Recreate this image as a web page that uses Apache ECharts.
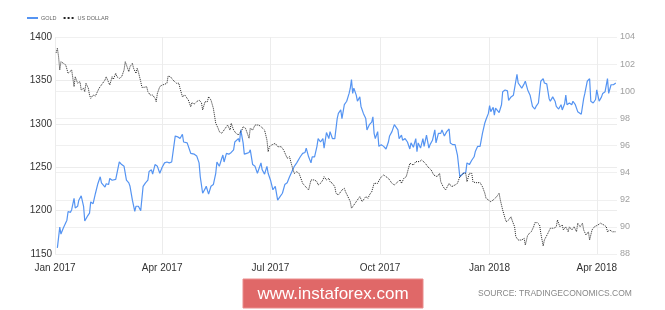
<!DOCTYPE html>
<html>
<head>
<meta charset="utf-8">
<script src="https://cdn.jsdelivr.net/npm/echarts@6/dist/echarts.min.js"></script>
<style>html,body{margin:0;padding:0;background:#fff}#c{width:665px;height:310px}</style>
</head>
<body>
<div id="c"></div>
<script>
// x values are days since 1 Jan 2017
const quarterDays = [0, 90, 181, 273, 365, 455];
const quarterLabels = ['Jan 2017', 'Apr 2017', 'Jul 2017', 'Oct 2017', 'Jan 2018', 'Apr 2018'];
const goldTicks = [1150, 1200, 1250, 1300, 1350, 1400];
const usdTicks = [88, 90, 92, 94, 96, 98, 100, 102, 104];

const gold = [[2,1157],[4,1181],[5,1173],[7,1180],[10,1189],[11,1199],[13,1198],[14,1201],[16,1214],[17,1203],[19,1205],[20,1212],[22,1217],[24,1205],[25,1188],[27,1193],[29,1197],[30,1210],[32,1208],[34,1220],[36,1231],[38,1239],[39,1232],[40,1233],[42,1227],[43,1231],[45,1230],[46,1237],[48,1235],[51,1236],[52,1235],[54,1256],[56,1253],[58,1251],[60,1235],[62,1232],[63,1228],[65,1212],[67,1199],[68,1205],[70,1205],[72,1200],[74,1228],[76,1232],[78,1235],[79,1245],[81,1247],[82,1242],[84,1253],[86,1251],[88,1243],[90,1250],[92,1255],[94,1256],[96,1255],[98,1256],[101,1286],[103,1285],[105,1283],[107,1288],[108,1279],[111,1278],[112,1276],[114,1266],[115,1264],[117,1265],[119,1263],[121,1255],[122,1239],[124,1220],[126,1225],[127,1228],[129,1219],[131,1228],[133,1230],[135,1243],[136,1256],[138,1251],[140,1260],[141,1264],[142,1256],[144,1266],[146,1265],[148,1267],[150,1270],[151,1279],[152,1278],[154,1283],[155,1279],[156,1293],[158,1278],[159,1265],[161,1266],[163,1267],[164,1270],[166,1253],[168,1251],[170,1243],[171,1247],[173,1255],[174,1247],[176,1242],[178,1251],[179,1243],[181,1235],[183,1224],[185,1228],[187,1212],[189,1216],[191,1220],[193,1230],[195,1232],[197,1239],[199,1245],[201,1251],[203,1255],[206,1262],[208,1266],[210,1267],[211,1272],[213,1262],[215,1255],[216,1262],[218,1262],[220,1274],[221,1283],[223,1279],[225,1283],[226,1272],[228,1290],[230,1283],[231,1291],[233,1283],[235,1283],[237,1306],[238,1312],[240,1316],[241,1306],[243,1322],[245,1326],[247,1335],[248,1341],[249,1351],[250,1335],[251,1341],[253,1333],[254,1326],[256,1331],[257,1320],[259,1312],[261,1306],[262,1293],[264,1299],[266,1302],[267,1308],[268,1289],[269,1283],[271,1291],[272,1274],[274,1276],[276,1274],[278,1271],[280,1279],[281,1286],[283,1291],[285,1299],[286,1298],[288,1293],[289,1283],[291,1287],[292,1281],[294,1283],[296,1279],[298,1271],[299,1278],[301,1273],[303,1283],[304,1268],[305,1278],[307,1272],[309,1283],[310,1274],[312,1287],[314,1272],[315,1276],[317,1281],[319,1293],[320,1278],[322,1289],[324,1289],[325,1293],[327,1286],[329,1291],[331,1294],[332,1278],[334,1276],[336,1276],[338,1264],[340,1239],[341,1241],[343,1243],[345,1244],[346,1255],[348,1253],[350,1258],[352,1262],[353,1268],[355,1274],[357,1274],[359,1289],[361,1301],[362,1305],[364,1312],[365,1321],[366,1314],[368,1319],[369,1310],[370,1318],[371,1316],[373,1313],[375,1322],[376,1337],[378,1339],[380,1338],[381,1327],[383,1331],[385,1333],[388,1357],[389,1347],[390,1349],[392,1341],[394,1346],[395,1349],[397,1339],[398,1337],[399,1333],[401,1320],[403,1317],[404,1320],[406,1324],[408,1349],[410,1352],[411,1347],[413,1346],[415,1329],[416,1326],[418,1331],[420,1326],[421,1320],[423,1317],[425,1322],[426,1316],[428,1323],[429,1333],[430,1322],[432,1324],[434,1322],[435,1326],[437,1322],[439,1314],[440,1316],[442,1311],[444,1329],[445,1335],[447,1349],[449,1352],[450,1326],[452,1324],[454,1328],[455,1339],[457,1326],[459,1331],[460,1335],[462,1337],[464,1352],[465,1335],[467,1345],[469,1345],[471,1347]];

const usd = [[1,102.84],[2,103.17],[3,102.55],[4,101.57],[5,102.18],[7,102.06],[9,101.94],[11,101.32],[12,101.2],[14,101.57],[16,100.34],[17,101.07],[18,100.83],[19,100.59],[21,100.71],[22,100.09],[24,100.22],[25,99.97],[26,100.59],[28,100.22],[29,99.72],[30,99.48],[32,99.72],[34,99.65],[35,99.85],[37,100.22],[38,100.22],[40,100.59],[42,100.83],[43,101.07],[44,101.2],[46,100.46],[48,101.07],[49,100.88],[51,101.32],[52,101.07],[54,100.95],[56,101.07],[57,101.07],[58,101.57],[59,102.18],[61,101.69],[62,101.44],[63,101.81],[65,102.06],[66,101.69],[68,101.32],[69,101.69],[70,101.44],[72,100.71],[73,100.29],[75,100.29],[77,100.34],[78,99.97],[80,99.72],[82,99.72],[84,99.48],[85,99.23],[86,99.85],[88,100.34],[90,100.46],[92,100.51],[94,100.59],[95,101.12],[97,101.07],[99,100.83],[100,100.78],[102,100.59],[104,100.59],[105,100.22],[107,99.6],[109,99.72],[110,99.72],[112,99.35],[114,98.86],[115,99.16],[117,99.06],[119,99.23],[121,99.35],[123,99.16],[124,98.62],[126,99.23],[128,99.23],[129,99.6],[131,99.35],[133,98.74],[135,97.64],[137,97.27],[138,97.02],[140,96.9],[142,97.14],[143,97.27],[145,97.51],[147,97.14],[148,97.64],[150,97.14],[152,96.9],[154,96.78],[155,96.65],[157,97.14],[158,97.39],[160,97.27],[161,97.34],[163,96.53],[164,97.27],[166,97.14],[168,97.51],[169,97.64],[171,97.51],[173,97.39],[174,97.51],[176,97.14],[178,96.41],[179,95.54],[180,95.91],[182,96.04],[183,96.04],[185,96.16],[187,95.91],[188,96.04],[190,95.91],[192,95.67],[193,95.54],[195,95.06],[197,95.17],[198,94.81],[200,94.19],[201,93.94],[203,94.07],[205,93.94],[206,93.7],[208,93.21],[210,93.01],[211,92.96],[213,92.72],[215,93.46],[216,93.33],[218,93.46],[220,93.33],[221,93.09],[223,93.21],[225,93.46],[226,93.7],[228,93.46],[230,93.58],[231,93.33],[233,93.21],[235,92.96],[236,92.48],[238,92.35],[239,92.23],[241,92.72],[243,92.84],[244,92.59],[246,92.23],[248,91.86],[249,91.37],[251,91.61],[253,91.86],[254,91.98],[256,92.23],[258,91.86],[259,91.98],[261,92.23],[263,92.11],[264,92.35],[266,92.59],[268,93.21],[269,93.33],[271,93.21],[273,93.58],[274,93.7],[276,93.83],[278,93.7],[280,93.58],[281,93.7],[283,93.21],[285,93.09],[286,93.21],[288,93.33],[290,93.46],[291,93.21],[293,93.58],[295,93.7],[296,93.83],[298,94.69],[299,94.81],[301,94.56],[303,94.81],[304,94.69],[306,94.81],[308,94.93],[309,94.81],[311,94.69],[313,94.44],[314,94.56],[316,94.19],[318,93.83],[319,93.95],[321,93.7],[323,93.95],[324,93.33],[326,92.96],[328,92.72],[329,92.84],[331,93.21],[333,92.96],[334,92.96],[336,93.09],[338,93.21],[340,93.7],[341,93.83],[343,93.95],[345,93.95],[346,93.33],[348,93.95],[350,93.95],[351,93.33],[353,93.26],[355,93.26],[357,93.26],[359,92.96],[361,92.48],[362,92.11],[364,91.98],[366,91.86],[368,91.98],[369,91.98],[371,92.23],[373,92.48],[374,91.98],[376,91.24],[378,90.63],[379,90.38],[381,90.51],[383,90.75],[384,90.46],[386,90.01],[387,89.28],[389,89.03],[390,89.16],[392,89.03],[394,89.16],[395,88.66],[397,89.4],[398,89.28],[400,89.64],[402,90.01],[403,90.31],[405,90.31],[407,90.14],[408,89.53],[410,88.59],[411,89.03],[412,89.16],[414,89.53],[416,89.9],[417,89.77],[419,89.9],[421,90.01],[422,90.51],[424,90.01],[426,90.14],[427,89.77],[429,90.01],[431,89.64],[432,90.01],[434,89.77],[436,90.01],[438,89.64],[439,90.27],[441,90.01],[443,90.27],[444,89.77],[446,89.4],[448,89.64],[449,89.03],[451,89.77],[453,90.01],[454,90.01],[456,90.14],[458,90.27],[459,90.38],[461,90.14],[463,90.01],[464,89.64],[466,89.77],[468,89.64],[469,89.53],[471,89.64]];

const chart = echarts.init(document.getElementById('c'), null, {renderer: 'canvas'});
const font = '"Liberation Sans", Arial, sans-serif';
chart.setOption({
  animation: false,
  backgroundColor: '#fff',
  textStyle: {fontFamily: font},
  legend: {
    left: 21, top: 10,
    itemWidth: 11, itemHeight: 6, itemGap: 6,
    itemStyle: {opacity: 0},
    textStyle: {fontSize: 5.5, color: '#666', padding: [0, 0, 0, -2]},
    data: ['GOLD', 'US DOLLAR']
  },
  grid: {left: 55, right: 48, top: 37, bottom: 56},
  xAxis: {
    type: 'value', min: 0, max: 472,
    axisLine: {show: false},
    axisTick: {show: false, customValues: quarterDays},
    splitLine: {show: true, lineStyle: {color: '#ececec', width: 1}},
    axisLabel: {
      customValues: quarterDays, color: '#333', fontSize: 10, margin: 9,
      formatter: v => quarterLabels[quarterDays.indexOf(v)]
    }
  },
  yAxis: [{
    type: 'value', min: goldTicks[0], max: goldTicks[goldTicks.length - 1], interval: 50,
    axisLine: {show: false}, axisTick: {show: false},
    splitLine: {lineStyle: {color: '#ececec'}},
    axisLabel: {color: '#333', fontSize: 10, margin: 3, formatter: v => String(v)}
  }, {
    type: 'value', position: 'right', min: usdTicks[0], max: usdTicks[usdTicks.length - 1], interval: 2,
    axisLine: {show: false}, axisTick: {show: false},
    splitLine: {lineStyle: {color: '#f0f0f0'}},
    axisLabel: {color: '#a0a0a0', fontSize: 9, margin: 3, formatter: v => String(v)}
  }],
  series: [{
    name: 'GOLD', type: 'line', yAxisIndex: 0, data: gold,
    symbol: 'none', lineStyle: {color: '#5594f2', width: 1.2}, itemStyle: {color: '#5594f2'}
  }, {
    name: 'US DOLLAR', type: 'line', yAxisIndex: 1, data: usd,
    symbol: 'none', lineStyle: {color: '#222', width: 1, type: 'dotted'}, itemStyle: {color: '#222'}
  }],
  graphic: [
    {type: 'rect', shape: {x: 243, y: 279, width: 180, height: 29}, style: {fill: '#e06868', stroke: '#ea8c8c', lineWidth: 1}},
    {type: 'text', x: 333, y: 294, style: {text: 'www.instaforex.com', fill: '#fff', font: '17px "Liberation Sans", Arial, sans-serif', align: 'center', verticalAlign: 'middle'}},
    {type: 'text', x: 478, y: 294, style: {text: 'SOURCE: TRADINGECONOMICS.COM', fill: '#888', font: '8.5px "Liberation Sans", Arial, sans-serif', align: 'left', verticalAlign: 'middle'}}
  ]
});
</script>
</body>
</html>
